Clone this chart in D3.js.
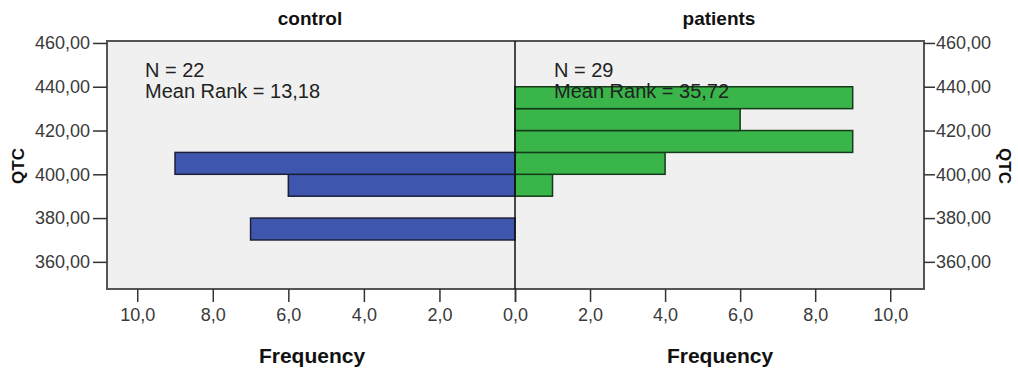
<!DOCTYPE html>
<html>
<head>
<meta charset="utf-8">
<script src="https://cdn.jsdelivr.net/npm/d3@7"></script>
<style>
  html, body { margin: 0; padding: 0; background: #fff; }
  svg { display: block; }
  text { font-family: Arial, "Liberation Sans", sans-serif; }
</style>
</head>
<body>
<svg id="chart" width="1018" height="374"></svg>
<script>
// ---- data ----
const groups = ["control", "patients"];
const binStarts = [370, 390, 400];            // control bins (lower bound, width 10)
const controlCounts = [7, 6, 9];
const patientBinStarts = [390, 400, 410, 420, 430];
const patientCounts = [1, 4, 9, 6, 9];
const binWidth = 10;
const nLabels = ["N = 22", "N = 29"];
const meanRankLabels = ["Mean Rank = 13,18", "Mean Rank = 35,72"];
const yTicks = [360, 380, 400, 420, 440, 460];
const xTicks = [0, 2, 4, 6, 8, 10];
const yLabel = "QTC";
const xLabel = "Frequency";

// ---- layout ----
const svg = d3.select("#chart");
const plotLeft = 107, plotRight = 924, plotTop = 41, plotBottom = 289, mid = 515;

const y = d3.scaleLinear().domain([347.6, 460.9]).range([plotBottom, plotTop]);
const xL = d3.scaleLinear().domain([0, 10.8]).range([mid, plotLeft]);
const xR = d3.scaleLinear().domain([0, 10.9]).range([mid, plotRight]);
const fmtX = v => d3.format(".1f")(v).replace(".", ",");
const fmtXL = v => v === 0 ? "" : fmtX(v);
const fmtY = v => d3.format(".2f")(v).replace(".", ",");

// background
svg.append("rect").attr("x", plotLeft).attr("y", plotTop)
  .attr("width", plotRight - plotLeft).attr("height", plotBottom - plotTop)
  .attr("fill", "#f0f0f0");

// bars
const ctrl = binStarts.map((s, i) => ({ s, c: controlCounts[i] }));
const pat = patientBinStarts.map((s, i) => ({ s, c: patientCounts[i] }));

svg.append("g").selectAll("rect").data(ctrl).join("rect")
  .attr("x", d => xL(d.c)).attr("y", d => y(d.s + binWidth))
  .attr("width", d => xL(0) - xL(d.c)).attr("height", d => y(d.s) - y(d.s + binWidth))
  .attr("fill", "#3e56ad").attr("stroke", "#1c1f3a").attr("stroke-width", 1.5);

svg.append("g").selectAll("rect").data(pat).join("rect")
  .attr("x", xR(0)).attr("y", d => y(d.s + binWidth))
  .attr("width", d => xR(d.c) - xR(0)).attr("height", d => y(d.s) - y(d.s + binWidth))
  .attr("fill", "#3ab54a").attr("stroke", "#163a1a").attr("stroke-width", 1.5);

// frame
svg.append("rect").attr("x", plotLeft).attr("y", plotTop)
  .attr("width", plotRight - plotLeft).attr("height", plotBottom - plotTop)
  .attr("fill", "none").attr("stroke", "#555").attr("stroke-width", 2);
// center line
svg.append("line").attr("x1", mid).attr("x2", mid).attr("y1", plotTop).attr("y2", plotBottom)
  .attr("stroke", "#111").attr("stroke-width", 1.5);

// y axes
const yAxisL = d3.axisLeft(y).tickValues(yTicks).tickFormat(fmtY).tickSize(14).tickPadding(3);
const yAxisR = d3.axisRight(y).tickValues(yTicks).tickFormat(fmtY).tickSize(11).tickPadding(1);
function styleAxis(g) {
  g.select(".domain").remove();
  g.selectAll(".tick line").attr("stroke", "#333").attr("stroke-width", 1.5);
  g.selectAll(".tick text").attr("fill", "#3a3a3a").style("font-size", "18px")
    .style("font-family", "Arial, 'Liberation Sans', sans-serif");
}
svg.append("g").attr("transform", `translate(${plotLeft},0)`).call(yAxisL).call(styleAxis);
svg.append("g").attr("transform", `translate(${plotRight},0)`).call(yAxisR).call(styleAxis);

// x axes
const xAxisL = d3.axisBottom(xL).tickValues(xTicks).tickFormat(fmtXL).tickSize(13).tickPadding(6);
const xAxisR = d3.axisBottom(xR).tickValues(xTicks).tickFormat(fmtX).tickSize(13).tickPadding(6);
svg.append("g").attr("transform", `translate(0,${plotBottom})`).call(xAxisL).call(styleAxis);
svg.append("g").attr("transform", `translate(0,${plotBottom})`).call(xAxisR).call(styleAxis);

// annotations
const annX = [145, 554];
groups.forEach((g, i) => {
  svg.append("text").attr("x", annX[i]).attr("y", 77).text(nLabels[i])
    .attr("fill", "#222").style("font-size", "20px");
  svg.append("text").attr("x", annX[i]).attr("y", 98).text(meanRankLabels[i])
    .attr("fill", "#222").style("font-size", "20px");
});

// panel titles
const titleX = [310, 719];
groups.forEach((g, i) => {
  svg.append("text").attr("x", titleX[i]).attr("y", 25).attr("text-anchor", "middle")
    .text(g).attr("fill", "#111").style("font-size", "19px").style("font-weight", "bold");
});

// x titles
const freqX = [312, 720];
freqX.forEach(cx => {
  svg.append("text").attr("x", cx).attr("y", 363).attr("text-anchor", "middle")
    .text(xLabel).attr("fill", "#111").style("font-size", "21px").style("font-weight", "bold");
});

// y titles
svg.append("text").attr("transform", "translate(24,166) rotate(-90)").attr("text-anchor", "middle")
  .text(yLabel).attr("fill", "#111").style("font-size", "17px").style("font-weight", "bold");
svg.append("text").attr("transform", "translate(999,166) rotate(90)").attr("text-anchor", "middle")
  .text(yLabel).attr("fill", "#111").style("font-size", "17px").style("font-weight", "bold");
</script>
</body>
</html>
